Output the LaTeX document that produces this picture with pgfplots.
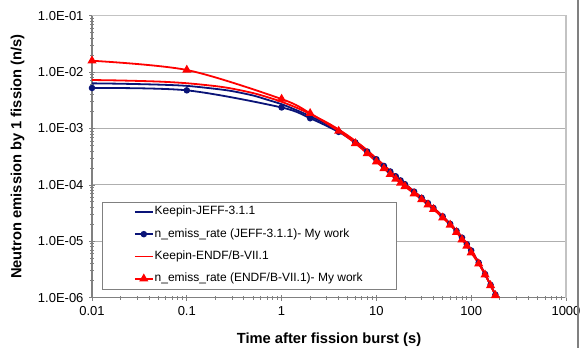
\documentclass[border=0pt]{standalone}
\usepackage{fontspec}
\setmainfont{Liberation Sans}
\usepackage{pgfplots}
\pgfplotsset{compat=1.18}
\definecolor{navyb}{RGB}{10,20,120}
\definecolor{gridg}{RGB}{175,175,175}
\definecolor{axg}{RGB}{128,128,128}
\definecolor{bordg}{RGB}{195,195,195}

\pgfplotstableread{
x y
0.01 6.32e-3
0.02 6.22e-3
0.05 6.0e-3
0.1 5.7e-3
0.2 5.05e-3
0.3 4.6e-3
0.5 3.85e-3
0.7 3.25e-3
1 2.7e-3
1.5 2.05e-3
2 1.65e-3
3 1.19e-3
4 9.1e-4
5 7.2e-4
7 4.8e-4
10 2.9e-4
15 1.58e-4
20 1.04e-4
30 5.93e-5
40 3.92e-5
50 2.78e-5
60 2.04e-5
70 1.53e-5
80 1.16e-5
100 6.87e-6
120 4.18e-6
140 2.62e-6
160 1.69e-6
180 1.13e-6
}\keepinjeff

\pgfplotstableread{
x y
0.01 5.23e-3
0.1 4.75e-3
1 2.36e-3
2 1.52e-3
4 8.7e-4
6 5.65e-4
8 3.9e-4
10 2.85e-4
12 2.17e-4
14 1.73e-4
16 1.42e-4
18 1.2e-4
20 1.03e-4
25 7.6e-5
30 5.9e-5
35 4.75e-5
40 3.9e-5
50 2.77e-5
60 2.04e-5
70 1.53e-5
80 1.16e-5
90 8.9e-6
100 6.87e-6
120 4.18e-6
140 2.62e-6
160 1.69e-6
180 1.13e-6
}\emissjeff

\pgfplotstableread{
x y
0.01 7.24e-3
0.02 7.1e-3
0.05 6.8e-3
0.1 6.35e-3
0.2 5.65e-3
0.3 5.1e-3
0.5 4.25e-3
0.7 3.62e-3
1 2.98e-3
1.5 2.27e-3
2 1.80e-3
3 1.28e-3
4 9.6e-4
5 7.5e-4
7 4.95e-4
10 2.95e-4
15 1.6e-4
20 1.05e-4
30 5.93e-5
40 3.92e-5
50 2.78e-5
60 2.04e-5
70 1.53e-5
80 1.16e-5
100 6.87e-6
120 4.18e-6
140 2.62e-6
160 1.69e-6
180 1.13e-6
}\keepinendf

\pgfplotstableread{
x y
0.01 1.59e-2
0.1 1.09e-2
1 3.33e-3
2 1.86e-3
4 9.0e-4
6 5.45e-4
8 3.6e-4
10 2.58e-4
12 1.95e-4
14 1.55e-4
16 1.27e-4
18 1.08e-4
20 9.4e-5
25 7.0e-5
30 5.5e-5
35 4.45e-5
40 3.7e-5
50 2.62e-5
60 1.95e-5
70 1.45e-5
80 1.07e-5
90 8.3e-6
100 6.3e-6
120 4.0e-6
140 2.55e-6
160 1.65e-6
180 1.1e-6
}\emissendf

\begin{document}
\begin{tikzpicture}
\useasboundingbox (-92pt,-50.3pt) rectangle (489pt,297.7pt);
\begin{axis}[
  name=ax,
  at={(0pt,0pt)}, anchor=south west,
  scale only axis, width=474pt, height=282pt,
  xmode=log, ymode=log,
  xmin=0.01, xmax=1000, ymin=1e-6, ymax=1e-1,
  xtick={0.01,0.1,1,10,100,1000},
  xticklabels={0.01,0.1,1,10,100,1000},
  ytick={1e-6,1e-5,1e-4,1e-3,1e-2,1e-1},
  yticklabels={1.0E-06,1.0E-05,1.0E-04,1.0E-03,1.0E-02,1.0E-01},
  minor xtick={0.02,0.03,0.04,0.05,0.06,0.07,0.08,0.09,0.2,0.3,0.4,0.5,0.6,0.7,0.8,0.9,2,3,4,5,6,7,8,9,20,30,40,50,60,70,80,90,200,300,400,500,600,700,800,900},
  minor ytick={2e-6,3e-6,4e-6,5e-6,6e-6,7e-6,8e-6,9e-6,2e-5,3e-5,4e-5,5e-5,6e-5,7e-5,8e-5,9e-5,2e-4,3e-4,4e-4,5e-4,6e-4,7e-4,8e-4,9e-4,2e-3,3e-3,4e-3,5e-3,6e-3,7e-3,8e-3,9e-3,2e-2,3e-2,4e-2,5e-2,6e-2,7e-2,8e-2,9e-2},
  ymajorgrids,
  major grid style={gridg, line width=0.9pt},
  axis lines*=left,
  axis line style={draw=axg, line width=1.3pt},
  tick style={axg, line width=0.8pt},
  major tick length=6pt, minor tick length=4pt,
  tick align=center,
  ticklabel style={font=\fontsize{13}{15}\selectfont},
  xticklabel style={yshift=-2pt},
  yticklabel style={xshift=-2pt},
  xlabel={Time after fission burst (s)},
  ylabel={Neutron emission by 1 fission (n/s)},
  label style={font=\bfseries\fontsize{14.7}{17}\selectfont},
  xlabel style={at={(axis description cs:0.5,-0.149)}, anchor=center},
  ylabel style={at={(axis description cs:-0.157,0.5)}, anchor=center},
  legend cell align=left,
  legend image code/.code={\draw[mark repeat=2,mark phase=2,#1] plot coordinates {(0pt,0pt) (9pt,0pt) (18pt,0pt)};},
  legend style={at={(axis description cs:0.0205,0.031)}, anchor=south west,
    draw=axg, inner xsep=32pt, inner ysep=3.5pt,
    font=\fontsize{12}{14}\selectfont, row sep=9.3pt,
    nodes={inner sep=1pt, text height=8.5pt, text depth=2.5pt}},
]
\addplot[navyb, line width=1.8pt, smooth, no markers] table {\keepinjeff};
\addlegendentry{Keepin-JEFF-3.1.1}
\addplot[navyb, line width=1.8pt, smooth, mark=*, mark size=2.3pt] table {\emissjeff};
\addlegendentry{n\_emiss\_rate (JEFF-3.1.1)- My work}
\addplot[red, line width=1.8pt, smooth, no markers] table {\keepinendf};
\addlegendentry{Keepin-ENDF/B-VII.1}
\addplot[red, line width=1.8pt, smooth, mark=triangle*, mark size=3.5pt] table {\emissendf};
\addlegendentry{n\_emiss\_rate (ENDF/B-VII.1)- My work}
\end{axis}
\draw[bordg, line width=1.6pt] (ax.north west) -- (ax.north east) -- (ax.south east);
\draw[axg, line width=1.2pt] (486pt,-60pt) -- (486pt,300pt);
\end{tikzpicture}
\end{document}
